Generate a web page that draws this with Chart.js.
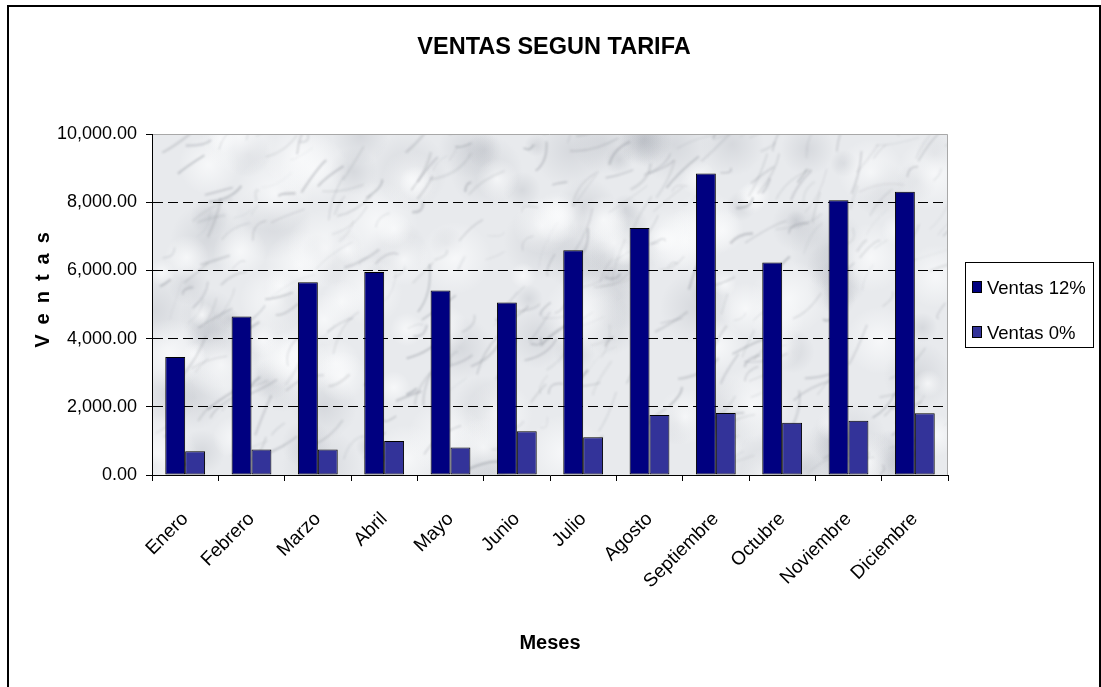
<!DOCTYPE html>
<html>
<head>
<meta charset="utf-8">
<title>Ventas segun tarifa</title>
<script src="https://cdn.jsdelivr.net/npm/chart.js@4/dist/chart.umd.min.js"></script>
<style>
  html, body { margin: 0; padding: 0; background: #fff; }
  #wrap { width: 1101px; height: 687px; position: relative; }
</style>
</head>
<body>
<div id="wrap"><canvas id="myChart"></canvas></div>
<script>
// data
var meses = ['Enero', 'Febrero', 'Marzo', 'Abril', 'Mayo', 'Junio', 'Julio', 'Agosto', 'Septiembre', 'Octubre', 'Noviembre', 'Diciembre'];
var ventas12 = [3460, 4650, 5650, 5950, 5410, 5060, 6590, 7240, 8840, 6230, 8060, 8310];
var ventas0 = [700, 750, 750, 1000, 810, 1280, 1110, 1760, 1820, 1530, 1590, 1810];
var yTicks = [0, 2000, 4000, 6000, 8000, 10000];

var FONT = "'Liberation Sans', Arial, sans-serif";

// little helper for the marble look of the plot area
function hash(n) {
    var x = Math.sin(n * 127.1 + 311.7) * 43758.5453;
    return x - Math.floor(x);
}

var marble = {
    id: 'marble',
    beforeDraw: function(chart) {
        var a = chart.chartArea, ctx = chart.ctx;
        var w = a.right - a.left, h = a.bottom - a.top;
        ctx.save();
        ctx.beginPath();
        ctx.rect(a.left, a.top, w, h);
        ctx.clip();
        ctx.fillStyle = '#e8eaed';
        ctx.fillRect(a.left, a.top, w, h);
        // grey clouds
        for (var c = 0; c < 90; c++) {
            var cx = a.left + hash(c + 5200) * w, cy = a.top + hash(c + 5700) * h;
            var cr = 10 + hash(c + 6100) * 30;
            var cg = ctx.createRadialGradient(cx, cy, 0, cx, cy, cr);
            cg.addColorStop(0, 'rgba(150,155,165,0.22)');
            cg.addColorStop(1, 'rgba(150,155,165,0)');
            ctx.fillStyle = cg;
            ctx.fillRect(cx - cr, cy - cr, 2 * cr, 2 * cr);
        }
        // light blotches
        for (var i = 0; i < 80; i++) {
            var bx = a.left + hash(i + 900) * w, by = a.top + hash(i + 1300) * h;
            var r = 12 + hash(i + 1700) * 30;
            var rg = ctx.createRadialGradient(bx, by, 0, bx, by, r);
            rg.addColorStop(0, 'rgba(250,251,252,0.8)');
            rg.addColorStop(1, 'rgba(250,251,252,0)');
            ctx.fillStyle = rg;
            ctx.fillRect(bx - r, by - r, 2 * r, 2 * r);
        }
        // grey veins, softened
        ctx.filter = 'blur(0.8px)';
        for (var j = 0; j < 320; j++) {
            var x0 = a.left + hash(j) * w, y0 = a.top + hash(j + 500) * h;
            var len = 10 + hash(j + 2100) * 40;
            var ang = -0.75 + (hash(j + 2600) - 0.5) * 1.2;
            var x1 = x0 + Math.cos(ang) * len, y1 = y0 + Math.sin(ang) * len;
            ctx.strokeStyle = 'rgba(100,105,115,' + (0.08 + hash(j + 3100) * 0.25).toFixed(2) + ')';
            ctx.lineWidth = 0.6 + hash(j + 3600) * 1.8;
            ctx.beginPath();
            ctx.moveTo(x0, y0);
            ctx.quadraticCurveTo((x0 + x1) / 2 + (hash(j + 4100) - 0.5) * 18, (y0 + y1) / 2 + (hash(j + 4600) - 0.5) * 18, x1, y1);
            ctx.stroke();
        }
        ctx.filter = 'none';
        ctx.restore();
        // plot area frame, top and right
        ctx.save();
        ctx.strokeStyle = '#a8a8a8';
        ctx.lineWidth = 1;
        ctx.beginPath();
        ctx.moveTo(a.left, a.top + 0.5);
        ctx.lineTo(a.right - 0.5, a.top + 0.5);
        ctx.lineTo(a.right - 0.5, a.bottom);
        ctx.stroke();
        ctx.restore();
    }
};

var extras = {
    id: 'extras',
    afterDraw: function(chart) {
        var ctx = chart.ctx;
        ctx.save();
        // outer frame
        ctx.strokeStyle = '#000';
        ctx.lineWidth = 2;
        ctx.beginPath();
        ctx.moveTo(8, 690);
        ctx.lineTo(8, 6);
        ctx.lineTo(1100, 6);
        ctx.lineTo(1100, 690);
        ctx.stroke();

        // chart title
        ctx.fillStyle = '#000';
        ctx.font = 'bold 23.5px ' + FONT;
        ctx.textAlign = 'center';
        ctx.textBaseline = 'middle';
        ctx.fillText('VENTAS SEGUN TARIFA', 554, 48);

        // y axis title, spaced letters
        var txt = 'Ventas';
        ctx.font = 'bold 20px ' + FONT;
        ctx.textAlign = 'left';
        var spacing = 10, total = 0;
        for (var i = 0; i < txt.length; i++) total += ctx.measureText(txt[i]).width;
        total += spacing * (txt.length - 1);
        ctx.translate(43, 290);
        ctx.rotate(-Math.PI / 2);
        var x = -total / 2;
        for (var k = 0; k < txt.length; k++) {
            ctx.fillText(txt[k], x, 0);
            x += ctx.measureText(txt[k]).width + spacing;
        }
        ctx.restore();

        // legend
        ctx.save();
        ctx.fillStyle = '#fff';
        ctx.fillRect(965, 262, 128, 85);
        ctx.strokeStyle = '#000';
        ctx.lineWidth = 1;
        ctx.strokeRect(965.5, 262.5, 128, 85);
        ctx.font = '18.5px ' + FONT;
        ctx.textBaseline = 'alphabetic';
        chart.data.datasets.forEach(function(ds, i) {
            var top = 281 + i * 45;
            ctx.fillStyle = ds.backgroundColor;
            ctx.fillRect(972.5, top + 0.5, 9, 11);
            ctx.strokeStyle = '#000';
            ctx.strokeRect(972.5, top + 0.5, 9, 11);
            ctx.fillStyle = '#000';
            ctx.fillText(ds.label, 987, top + 13);
        });
        ctx.restore();
    }
};

var ctx = document.getElementById('myChart').getContext('2d');
var chart = new Chart(ctx, {
    type: 'bar',
    data: {
        labels: meses,
        datasets: [{
            label: 'Ventas 12%',
            data: ventas12,
            backgroundColor: '#000080',
            borderColor: '#000',
            borderWidth: 1,
            borderSkipped: false,
            categoryPercentage: 0.6,
            barPercentage: 1.0
        }, {
            label: 'Ventas 0%',
            data: ventas0,
            backgroundColor: '#333399',
            borderColor: '#000',
            borderWidth: 1,
            borderSkipped: false,
            categoryPercentage: 0.6,
            barPercentage: 1.0
        }]
    },
    options: {
        responsive: true,
        maintainAspectRatio: false,
        animation: false,
        layout: { padding: { left: 8, right: 153, top: 134, bottom: 0 } },
        plugins: {
            legend: { display: false },
            tooltip: { enabled: false },
            title: { display: false }
        },
        scales: {
            x: {
                grid: {
                    offset: true,
                    drawOnChartArea: false,
                    drawTicks: true,
                    tickLength: 6,
                    color: '#000',
                    tickColor: '#000'
                },
                border: { color: '#000', width: 1 },
                ticks: {
                    color: '#000',
                    font: { family: FONT, size: 19 },
                    autoSkip: false,
                    minRotation: 45,
                    maxRotation: 45,
                    padding: 27
                },
                title: {
                    display: true,
                    text: 'Meses',
                    color: '#000',
                    font: { family: FONT, size: 20, weight: 'bold' },
                    padding: { top: 0, bottom: 32 }
                },
                afterFit: function(scale) { scale.height = 212; }
            },
            y: {
                min: 0,
                max: 10000,
                afterBuildTicks: function(scale) {
                    scale.ticks = yTicks.map(function(v) { return { value: v }; });
                },
                grid: {
                    color: function(c) {
                        if (c.tick && (c.tick.value === 0 || c.tick.value === 10000)) return 'rgba(0,0,0,0)';
                        return '#000';
                    },
                    tickColor: '#000',
                    tickLength: 6,
                    tickBorderDash: [],
                    lineWidth: 1
                },
                border: { color: '#000', width: 1, dash: [10, 5] },
                ticks: {
                    color: '#000',
                    font: { family: FONT, size: 18 },
                    padding: 9,
                    callback: function(v) {
                        return Number(v).toLocaleString('en-US', { minimumFractionDigits: 2, maximumFractionDigits: 2 });
                    }
                },
                afterFit: function(scale) { scale.width = 144; }
            }
        }
    },
    plugins: [marble, extras]
});
</script>
</body>
</html>
